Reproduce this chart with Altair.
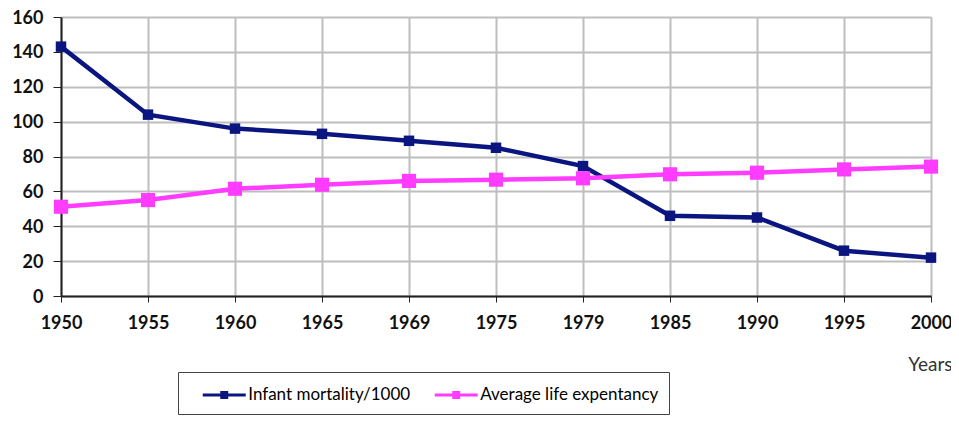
import altair as alt
import pandas as pd

years = ["1950", "1955", "1960", "1965", "1969", "1975", "1979", "1985", "1990", "1995", "2000"]
infant_mortality = [143, 104, 96, 93, 89, 85, 74.5, 46, 45, 26, 22]
life_expectancy = [51.2, 55, 61.5, 63.8, 66, 66.7, 67.5, 69.8, 70.7, 72.6, 74.2]
series_names = ["Infant mortality/1000", "Average life expentancy"]
series_colors = ["#0A1580", "#FF3CFF"]
marker_sizes = [110, 200]
y_ticks = [0, 20, 40, 60, 80, 100, 120, 140, 160]

rows = []
for yr, v in zip(years, infant_mortality):
    rows.append({"year": yr, "value": v, "series": series_names[0]})
for yr, v in zip(years, life_expectancy):
    rows.append({"year": yr, "value": v, "series": series_names[1]})
df = pd.DataFrame(rows)

FONT = "Lato"

legend = alt.Legend(
    title=None,
    orient="none",
    direction="horizontal",
    legendX=117,
    legendY=355,
    strokeColor="#444444",
    padding=10,
    symbolOffset=23.75,
    labelOffset=11.5,
    columnPadding=9,
    labelFont=FONT,
    labelFontSize=17,
    labelColor="#000000",
    symbolType="M-2,0H2M-0.37,-0.24H0.37M-0.37,0.24H0.37",
    symbolSize=462,
    symbolStrokeWidth=3,
    symbolOpacity=1,
    labelLimit=400,
)

color = alt.Color(
    "series:N",
    scale=alt.Scale(domain=series_names, range=series_colors),
    sort=series_names,
    legend=legend,
)

x = alt.X(
    "year:O",
    sort=years,
    scale=alt.Scale(type="point", padding=0),
    axis=alt.Axis(
        title="Years",
        titleFont=FONT,
        titleFontSize=19,
        titleFontWeight="normal",
        titleColor="#333333",
        titleX=891,
        titleY=74,
        titleAlign="right",
        titleBaseline="alphabetic",
        labelAngle=0,
        labelFont=FONT,
        labelFontSize=18,
        labelFontWeight="bold",
        labelColor="#111111",
        labelPadding=12,
        tickSize=6,
        tickColor="#222222",
        domainColor="#222222",
        domainWidth=2,
        grid=True,
        gridColor="#BEBEBE",
        gridWidth=2,
    ),
)

y = alt.Y(
    "value:Q",
    scale=alt.Scale(domain=[0, 160], nice=False),
    axis=alt.Axis(
        title=None,
        values=y_ticks,
        labelFont=FONT,
        labelFontSize=18,
        labelFontWeight="bold",
        labelColor="#111111",
        labelPadding=10,
        labelBaseline="alphabetic",
        labelOffset=6,
        tickSize=8,
        tickColor="#222222",
        domainColor="#222222",
        domainWidth=2,
        grid=True,
        gridColor="#BEBEBE",
        gridWidth=2,
    ),
)

lines = alt.Chart(df).mark_line(strokeWidth=4.5).encode(x=x, y=y, color=color)

point_layers = []
for name, col, sz in zip(series_names, series_colors, marker_sizes):
    point_layers.append(
        alt.Chart(df)
        .transform_filter(alt.datum.series == name)
        .mark_point(shape="square", filled=True, opacity=1, color=col, size=sz)
        .encode(x=x, y=y)
    )

chart = (
    alt.layer(lines, *point_layers)
    .properties(
        width=870,
        height=279,
        autosize=alt.AutoSizeParams(type="none"),
        padding={"left": 53, "top": 9, "right": 20, "bottom": 120},
    )
    .configure_view(fill="#FFFFCC", stroke="#999999", strokeWidth=2)
    .configure(background="#FFFFFF")
)

chart.save("out.html", embed_options={"renderer": "svg", "actions": False})
